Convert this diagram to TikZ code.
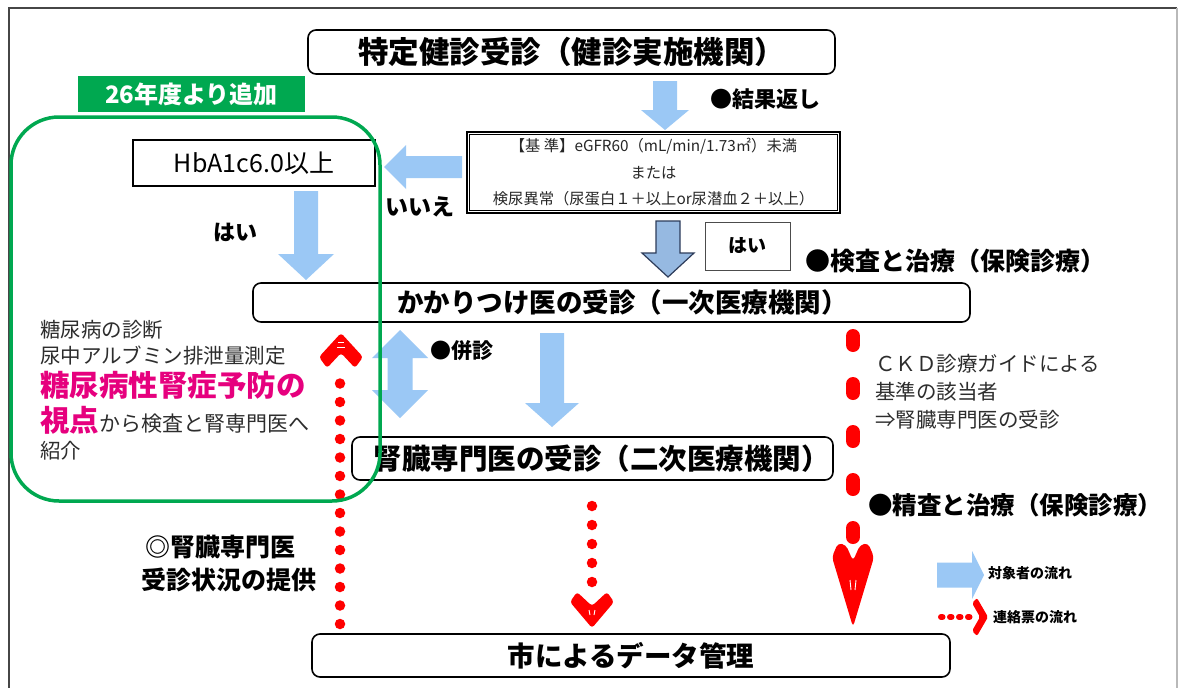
\documentclass[tikz,border=0pt]{standalone}
\usepackage{fontspec}
\setmainfont{Noto Sans CJK JP}
\usetikzlibrary{calc}
\definecolor{flowblue}{RGB}{155,200,245}
\definecolor{okgreen}{RGB}{0,168,80}
\definecolor{hotpink}{RGB}{230,0,126}
\definecolor{framegray}{RGB}{70,70,70}
\definecolor{txtgray}{RGB}{45,45,45}
\definecolor{steelfill}{RGB}{150,185,225}
\definecolor{steeledge}{RGB}{45,60,90}
\newcommand\fsz[1]{\fontsize{#1}{#1}\selectfont}
% #1 style, #2 start, #3 end, #4 shaft half width, #5 head half width, #6 head length
\newcommand\blockarrow[6]{%
  \coordinate (tmpC) at ($(#3)!#6!(#2)$);
  \path[#1] ($(#2)!#4!90:(#3)$) -- ($(tmpC)!#4!90:(#3)$) -- ($(tmpC)!#5!90:(#3)$)
    -- (#3) -- ($(tmpC)!#5!-90:(#3)$) -- ($(tmpC)!#4!-90:(#3)$)
    -- ($(#2)!#4!-90:(#3)$) -- cycle;}
\newcommand\dblblockarrow[6]{%
  \coordinate (tmpA) at ($(#2)!#6!(#3)$);
  \coordinate (tmpB) at ($(#3)!#6!(#2)$);
  \path[#1] (#2) -- ($(tmpA)!#5!90:(#3)$) -- ($(tmpA)!#4!90:(#3)$)
    -- ($(tmpB)!#4!90:(#3)$) -- ($(tmpB)!#5!90:(#3)$) -- (#3)
    -- ($(tmpB)!#5!-90:(#3)$) -- ($(tmpB)!#4!-90:(#3)$)
    -- ($(tmpA)!#4!-90:(#3)$) -- ($(tmpA)!#5!-90:(#3)$) -- cycle;}
\begin{document}
\begin{tikzpicture}[x=1pt,y=-1pt,
  roundbox/.style={draw=black, line width=1.6pt, rounded corners=8pt, inner sep=0pt},
  plainbox/.style={draw=black, line width=1.6pt, inner sep=0pt},
  lightarrow/.style={fill=flowblue},
  outlinearrow/.style={fill=steelfill, draw=steeledge, line width=1.2pt},
  reddots/.style={draw=red, line width=10.5pt, line cap=round, dash pattern=on 0pt off 18.5pt},
  redovals/.style={draw=red, line width=14pt, line cap=round, dash pattern=on 9pt off 39pt},
  legenddots/.style={draw=red, line width=6pt, line cap=round, dash pattern=on 1.5pt off 7.5pt},
  chevron/.style={fill=red, rounded corners=3pt},
  boldlabel/.style={inner sep=0pt, anchor=west, font=\bfseries},
  plainlabel/.style={inner sep=0pt, anchor=west, text=txtgray}]
\useasboundingbox (0,0) rectangle (1186,688);
\fill[white] (0,0) rectangle (1186,688);
% outer frame
\draw[framegray, line width=1.5pt] (9,688) -- (9,8) -- (1177,8);
\draw[gray!55, line width=1.2pt] (1177,8) -- (1177,688);

% main boxes
\node[roundbox, minimum width=527pt, minimum height=44pt] (kenshin) at (571.5,52)
  {\fsz{30.5}\bfseries 特定健診受診（健診実施機関）};
\node[fill=okgreen, minimum width=227pt, minimum height=36pt, inner sep=0pt, text=white] (added) at (191.5,94)
  {\fsz{24}\bfseries 26年度より追加};
\node[plainbox, minimum width=242pt, minimum height=46pt] (hba) at (254,163)
  {\fsz{25}HbA1c6.0以上};
\node[draw=black, line width=2.6pt, minimum width=373pt, minimum height=81pt, inner sep=0pt,
      align=center, font=\fontsize{15.3}{26.5}\selectfont, text=black!85] (kijun) at (653.5,172.5)
  {【基 準】eGFR60（mL/min/1.73㎡）未満\\または\\検尿異常（尿蛋白１＋以上or尿潜血２＋以上）};
\draw[black, line width=0.8pt] ([shift={(4pt,-4pt)}]kijun.north west) rectangle ([shift={(-4pt,4pt)}]kijun.south east);
\node[draw=gray!60!black, line width=0.8pt, minimum width=85pt, minimum height=48pt, inner sep=0pt] (haibox) at (747.5,246)
  {\fsz{19}\bfseries はい};
\node[roundbox, minimum width=717pt, minimum height=39pt] (kakari) at (611.5,302.5)
  {\fsz{26.5}\bfseries\hspace*{22pt}かかりつけ医の受診（一次医療機関）};
\node[roundbox, minimum width=481pt, minimum height=43pt] (jinzo) at (592.5,458.5)
  {\fsz{28.5}\bfseries\hspace*{18pt}腎臓専門医の受診（二次医療機関）};
\node[roundbox, minimum width=638pt, minimum height=43pt] (data) at (631,655.5)
  {\fsz{27.5}\bfseries 市によるデータ管理};

% labels
\node[boldlabel] (kekka) at (710,99) {\fsz{22}●結果返し};
\node[boldlabel] (iie) at (385,207) {\fsz{23}いいえ};
\node[boldlabel] (hai) at (213,232) {\fsz{22}はい};
\node[boldlabel] (kensa) at (805,261) {\fsz{25}●検査と治療（保険診療）};
\node[boldlabel] (heishin) at (430,351) {\fsz{21}●併診};
\node[boldlabel] (seisa) at (868,505) {\fsz{24.5}●精査と治療（保険診療）};
\node[boldlabel] (teikyo1) at (145,547) {\fsz{25}◎腎臓専門医};
\node[boldlabel] (teikyo2) at (141,580) {\fsz{25}受診状況の提供};

\node[plainlabel] (l1) at (40,330) {\fsz{20.5}糖尿病の診断};
\node[plainlabel] (l2) at (40,356) {\fsz{20.5}尿中アルブミン排泄量測定};
\node[plainlabel, text=hotpink] (l3) at (40,385) {\fsz{29.5}\bfseries 糖尿病性腎症予防の};
\node[plainlabel] (l4) at (40,420) {{\color{hotpink}\fsz{29.5}\bfseries 視点}{\fsz{21}から検査と腎専門医へ}};
\node[plainlabel] (l5) at (40,451) {\fsz{20.5}紹介};

\node[plainlabel] (c1) at (875,364) {\fsz{20.5}ＣＫＤ診療ガイドによる};
\node[plainlabel] (c2) at (875,392) {\fsz{20.5}基準の該当者};
\node[plainlabel] (c3) at (875,420) {\fsz{20.5}⇒腎臓専門医の受診};

\node[boldlabel] (lg1) at (988,573) {\fsz{14}対象者の流れ};
\node[boldlabel] (lg2) at (993,617) {\fsz{14}連絡票の流れ};

% blue flow arrows
\coordinate (a1s) at (665,81);
\coordinate (a1e) at (665,130);
\blockarrow{lightarrow}{a1s}{a1e}{12pt}{24pt}{20pt}
\coordinate (a2s) at (462,167);
\coordinate (a2e) at (384,167);
\blockarrow{lightarrow}{a2s}{a2e}{11pt}{22pt}{22pt}
\coordinate (a3s) at (306,191);
\coordinate (a3e) at (306,280);
\blockarrow{lightarrow}{a3s}{a3e}{12pt}{28pt}{26pt}
\coordinate (a4s) at (668,221);
\coordinate (a4e) at (668,277);
\blockarrow{outlinearrow}{a4s}{a4e}{12pt}{26pt}{24pt}
\coordinate (a5s) at (400,330);
\coordinate (a5e) at (400,418);
\dblblockarrow{lightarrow}{a5s}{a5e}{12.5pt}{28pt}{28pt}
\coordinate (a6s) at (552,333);
\coordinate (a6e) at (552,427);
\blockarrow{lightarrow}{a6s}{a6e}{12pt}{27pt}{24pt}
\coordinate (lgas) at (937,575);
\coordinate (lgae) at (984,575);
\blockarrow{lightarrow}{lgas}{lgae}{12.5pt}{24pt}{12pt}

% red connection-slip flows
\coordinate (r1s) at (340,624);
\coordinate (r1e) at (340,375);
\draw[reddots] (r1s) -- (r1e);
\fill[chevron] (341,333) -- (363,357) -- (355,368) -- (341,353) -- (327,368) -- (319,357) -- cycle;
\draw[white, line width=0.9pt] (338,342) -- (344,342) (337,347) -- (345,347);
\coordinate (r2s) at (592,506);
\coordinate (r2e) at (592,585);
\draw[reddots, dash pattern=on 0pt off 19pt] (r2s) -- (r2e);
\fill[chevron] (592,628) -- (570,602) -- (577,592) -- (592,606) -- (607,592) -- (614,602) -- cycle;
\draw[white, line width=0.9pt] (589,610) -- (590,615) (595,610) -- (594,615);
\coordinate (r3s) at (853,336);
\coordinate (r3e) at (853,540);
\draw[redovals] (r3s) -- (r3e);
\fill[red, rounded corners=4pt] (853,627) -- (832,557) -- (838,543) -- (846,545) -- (853,561) -- (860,545) -- (868,543) -- (874,557) -- cycle;
\draw[white, line width=0.9pt] (850,580) -- (851,590) (856,580) -- (855,590);
\coordinate (lgrs) at (941,617);
\coordinate (lgre) at (972,617);
\draw[legenddots] (lgrs) -- (lgre);
\fill[red, rounded corners=2pt] (988,617) -- (977,636) -- (972,631) -- (980,617) -- (972,603) -- (977,598) -- cycle;

% green frame added in FY26
\draw[okgreen, line width=3.5pt, rounded corners=48pt] (11,117) rectangle (380,501);
\end{tikzpicture}
\end{document}
